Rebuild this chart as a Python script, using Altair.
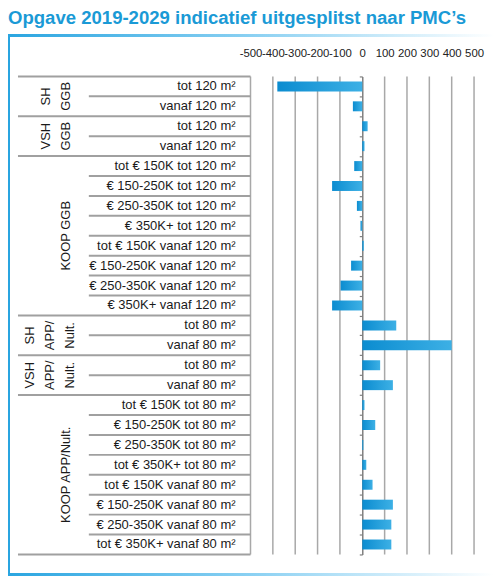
import pandas as pd
import altair as alt

TITLE = 'Opgave 2019-2029 indicatief uitgesplitst naar PMC\u2019s'
BLUE = '#1a9ad6'
FONT = 'Liberation Sans, Arial, sans-serif'

# one entry per row, top to bottom
row_labels = [
    'tot 120 m²', 'vanaf 120 m²',
    'tot 120 m²', 'vanaf 120 m²',
    'tot € 150K tot 120 m²', '€ 150-250K tot 120 m²', '€ 250-350K tot 120 m²', '€ 350K+ tot 120 m²',
    'tot € 150K vanaf 120 m²', '€ 150-250K vanaf 120 m²', '€ 250-350K vanaf 120 m²', '€ 350K+ vanaf 120 m²',
    'tot 80 m²', 'vanaf 80 m²',
    'tot 80 m²', 'vanaf 80 m²',
    'tot € 150K tot 80 m²', '€ 150-250K tot 80 m²', '€ 250-350K tot 80 m²', 'tot € 350K+ tot 80 m²',
    'tot € 150K vanaf 80 m²', '€ 150-250K vanaf 80 m²', '€ 250-350K vanaf 80 m²', 'tot € 350K+ vanaf 80 m²',
]
opgave = [-380, -42, 24, 10,
          -36, -135, -24, -8, 7, -50, -97, -135,
          152, 400, 80, 137,
          10, 58, 5, 18, 46, 137, 130, 130]

groups = ['SH\nGGB', 'VSH\nGGB', 'KOOP GGB', 'SH\nAPP/\nNult.', 'VSH\nAPP/\nNult.', 'KOOP APP/Nult.']
group_sizes = [2, 2, 8, 2, 2, 8]

x_ticks = [-500, -400, -300, -200, -100, 0, 100, 200, 300, 400, 500]

# tables
rows = pd.DataFrame({'label': row_labels, 'value': opgave})
rows['i'] = range(len(rows))

starts = [sum(group_sizes[:k]) for k in range(len(groups))]
grp = pd.DataFrame({'name': groups, 'start': starts, 'size': group_sizes})
grp['mid'] = grp['start'] + grp['size'] / 2
grp['nlines'] = grp['name'].str.count('\n') + 1

bounds = pd.DataFrame({'b': range(len(rows) + 1)})
bounds['major'] = bounds['b'].isin(starts + [len(rows)])

grid = pd.DataFrame({'tick': [t for t in x_ticks if t != 0]})

yscale = alt.Scale(domain=[0, 24], range=[41, 520])
yaxis = alt.Axis(values=list(range(25)), labels=False, title=None, grid=False,
                 domainColor='#808080', domainWidth=1.5, tickColor='#808080',
                 tickWidth=1.2, tickSize=3, offset=-354)
xscale = alt.Scale(domain=[-500, 500], range=[242, 466])
xaxis = alt.Axis(orient='top', values=x_ticks, title=None, domain=False, ticks=False,
                 grid=False, labelOverlap=False, labelFlush=False, labelFont=FONT,
                 labelExpr="'' + datum.value",  # plain hyphen instead of the minus sign
                 labelFontSize=11.4, labelColor='#222', labelPadding=0, offset=-23)


def Y(field):
    return alt.Y(field, type='quantitative', scale=yscale, axis=yaxis)


bar_fill = alt.Gradient(gradient='linear', x1=0, x2=1, y1=0, y2=0,
                        stops=[alt.GradientStop(color='#0b8cd0', offset=0),
                               alt.GradientStop(color='#3db0e5', offset=1)])
frame_fill = alt.Gradient(gradient='linear', x1=0, x2=1, y1=0, y2=0,
                          stops=[alt.GradientStop(color='#2aa5e0', offset=0),
                                 alt.GradientStop(color='#8ad0f2', offset=0.5),
                                 alt.GradientStop(color='#ffffff', offset=1)])

frame_left = alt.Chart(rows).mark_rect(color='#2aa5e0').encode(
    x=alt.value(-1), x2=alt.value(1), y=alt.value(0), y2=alt.value(540))
frame_top = alt.Chart(rows).mark_rect(fill=frame_fill).encode(
    x=alt.value(-1), x2=alt.value(487), y=alt.value(-1), y2=alt.value(1))
frame_bottom = alt.Chart(rows).mark_rect(fill=frame_fill, opacity=0.8).encode(
    x=alt.value(-1), x2=alt.value(487), y=alt.value(539), y2=alt.value(541))

gridlines = alt.Chart(grid).transform_calculate(y0='0', y1='24').mark_rule(
    color='#a8a8a8', strokeWidth=1.5).encode(
    x=alt.X('tick:Q', scale=xscale, axis=xaxis),
    y=Y('y0'), y2='y1:Q')

sep_major = alt.Chart(bounds).transform_filter('datum.major').mark_rule(
    color='#a0a0a0', strokeWidth=2).encode(
    x=alt.value(9), x2=alt.value(242), y=Y('b'))
sep_minor = alt.Chart(bounds).transform_filter('!datum.major').mark_rule(
    color='#a0a0a0', strokeWidth=2).encode(
    x=alt.value(80), x2=alt.value(242), y=Y('b'))

bars = alt.Chart(rows).transform_calculate(
    zero='0', y0='datum.i + 0.25', y1='datum.i + 0.75'
).mark_bar(fill=bar_fill).encode(
    x=alt.X('zero:Q', scale=xscale, axis=xaxis), x2='value:Q',
    y=Y('y0'), y2='y1:Q')

labels = alt.Chart(rows).transform_calculate(yc='datum.i + 0.5').mark_text(
    align='right', baseline='middle', font=FONT, fontSize=13, color='#1a1a1a').encode(
    x=alt.value(227), y=Y('yc'), text='label:N')

group_x = {1: 57, 2: 37, 3: 21}
group_text = [
    alt.Chart(grp).transform_filter(f'datum.nlines == {n}').mark_text(
        angle=270, align='center', baseline='middle', lineBreak='\n', lineHeight=20,
        font=FONT, fontSize=13, color='#1a1a1a').encode(
        x=alt.value(px), y=Y('mid'), text='name:N')
    for n, px in group_x.items()
]

chart = alt.layer(
    frame_left, frame_top, frame_bottom, gridlines, sep_major, sep_minor,
    bars, labels, *group_text
).properties(
    width=487, height=540, padding=0,
    title=alt.TitleParams(TITLE, anchor='start', font='Liberation Sans', fontSize=18.6,
                          fontWeight='bold', color=BLUE, offset=7)
).configure_view(stroke=None)

chart.save('out.html', embed_options={'renderer': 'svg', 'actions': False})
